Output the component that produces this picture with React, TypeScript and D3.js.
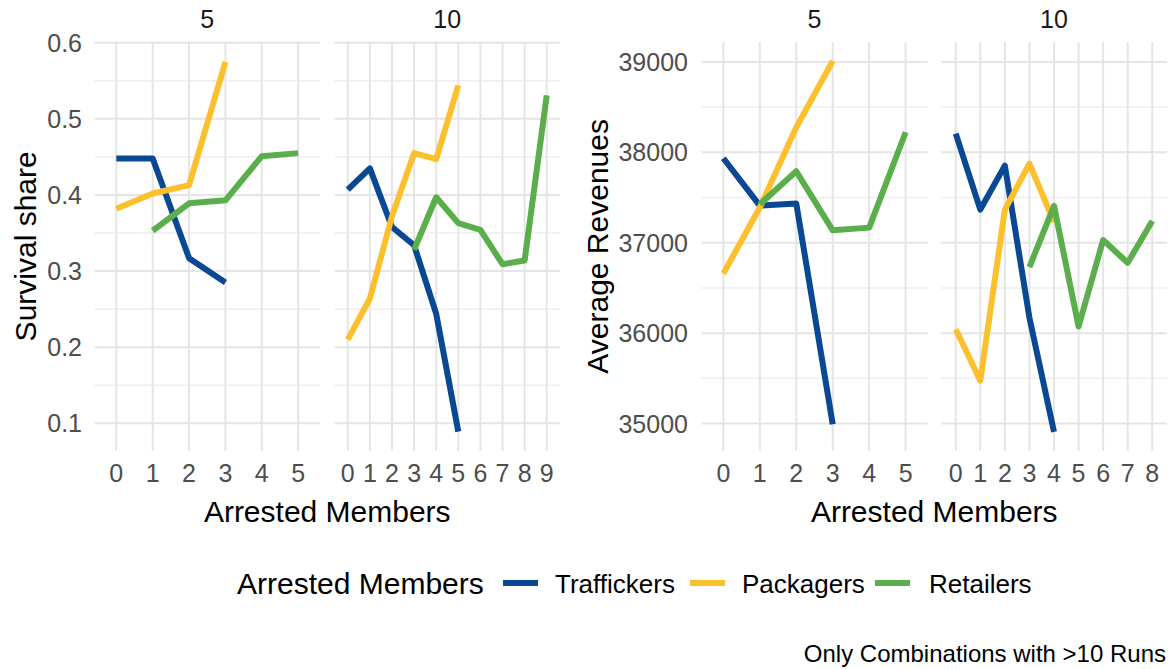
import React from "react";
import * as d3 from "d3";

// ---------- data ----------
const seriesNames = ["Traffickers", "Packagers", "Retailers"];
const seriesColors = ["#0a4893", "#fcc02e", "#5aae4b"];

const survivalX5 = ["0", "1", "2", "3", "4", "5"];
const survivalX10 = ["0", "1", "2", "3", "4", "5", "6", "7", "8", "9"];
const revenueX5 = ["0", "1", "2", "3", "4", "5"];
const revenueX10 = ["0", "1", "2", "3", "4", "5", "6", "7", "8"];

const survival5Traffickers = [0.448, 0.448, 0.317, 0.285, null, null];
const survival5Packagers = [0.382, 0.402, 0.413, 0.575, null, null];
const survival5Retailers = [null, 0.353, 0.389, 0.393, 0.451, 0.455];

const survival10Traffickers = [0.407, 0.435, 0.358, 0.334, 0.244, 0.089, null, null, null, null];
const survival10Packagers = [0.21, 0.264, 0.372, 0.455, 0.447, 0.544, null, null, null, null];
const survival10Retailers = [null, null, null, 0.328, 0.397, 0.363, 0.354, 0.309, 0.314, 0.531];

const revenue5Traffickers = [37934, 37410, 37435, 34992, null, null];
const revenue5Packagers = [36660, 37390, 38276, 39010, null, null];
const revenue5Retailers = [null, 37425, 37790, 37137, 37167, 38222];

const revenue10Traffickers = [38207, 37367, 37853, 36170, 34907, null, null, null, null];
const revenue10Packagers = [36044, 35475, 37366, 37875, 37229, null, null, null, null];
const revenue10Retailers = [null, null, null, 36731, 37407, 36074, 37030, 36778, 37241];

const survivalTicks = [0.1, 0.2, 0.3, 0.4, 0.5, 0.6];
const survivalMinor = [0.15, 0.25, 0.35, 0.45, 0.55];
const revenueTicks = [35000, 36000, 37000, 38000, 39000];
const revenueMinor = [35500, 36500, 37500, 38500];

const facetLabels = ["5", "10"];
const xTitle = "Arrested Members";
const legendTitle = "Arrested Members";
const caption = "Only Combinations with >10 Runs";

// ---------- layout ----------
const W = 1174;
const H = 669;
const PANEL_TOP = 42;
const PANEL_BOTTOM = 450.7;
const FONT = "'Liberation Sans', Arial, Helvetica, sans-serif";

type Plot = {
  yTitle: string;
  yDomain: [number, number];
  ticks: number[];
  minor: number[];
  fmt: (v: number) => string;
  x0: number;
  pw: number;
  gap: number;
  labelRight: number;
  yTitleX: number;
  panels: { label: string; cats: string[]; series: (number | null)[][] }[];
};

const plots: Plot[] = [
  {
    yTitle: "Survival share",
    yDomain: [0.064, 0.601],
    ticks: survivalTicks,
    minor: survivalMinor,
    fmt: d3.format(".1f"),
    x0: 94.5,
    pw: 225.5,
    gap: 14.5,
    labelRight: 82,
    yTitleX: 36,
    panels: [
      { label: facetLabels[0], cats: survivalX5, series: [survival5Traffickers, survival5Packagers, survival5Retailers] },
      { label: facetLabels[1], cats: survivalX10, series: [survival10Traffickers, survival10Packagers, survival10Retailers] },
    ],
  },
  {
    yTitle: "Average Revenues",
    yDomain: [34700, 39220],
    ticks: revenueTicks,
    minor: revenueMinor,
    fmt: d3.format("d"),
    x0: 701.5,
    pw: 226,
    gap: 13.5,
    labelRight: 688,
    yTitleX: 608,
    panels: [
      { label: facetLabels[0], cats: revenueX5, series: [revenue5Traffickers, revenue5Packagers, revenue5Retailers] },
      { label: facetLabels[1], cats: revenueX10, series: [revenue10Traffickers, revenue10Packagers, revenue10Retailers] },
    ],
  },
];

function PlotGroup({ plot }: { plot: Plot }) {
  const y = d3.scaleLinear().domain(plot.yDomain).range([PANEL_BOTTOM, PANEL_TOP]);
  const totalW = plot.pw * 2 + plot.gap;
  const centerX = plot.x0 + totalW / 2;
  return (
    <g>
      {plot.panels.map((panel, pi) => {
        const left = plot.x0 + pi * (plot.pw + plot.gap);
        const x = d3.scalePoint<string>().domain(panel.cats).range([left, left + plot.pw]).padding(0.6);
        return (
          <g key={pi}>
            {plot.minor.map((v) => (
              <line key={"mn" + v} x1={left} x2={left + plot.pw} y1={y(v)} y2={y(v)} stroke="#eeeeee" strokeWidth={1.5} />
            ))}
            {plot.ticks.map((v) => (
              <line key={"mj" + v} x1={left} x2={left + plot.pw} y1={y(v)} y2={y(v)} stroke="#e5e5e5" strokeWidth={2} />
            ))}
            {panel.cats.map((c) => (
              <line key={"vx" + c} x1={x(c)} x2={x(c)} y1={PANEL_TOP} y2={PANEL_BOTTOM} stroke="#e5e5e5" strokeWidth={2} />
            ))}
            {panel.series.map((vals, si) => {
              const pts = panel.cats.map((c, i) => ({ c, v: vals[i] }));
              const gen = d3
                .line<{ c: string; v: number | null }>()
                .defined((d) => d.v != null)
                .x((d) => x(d.c) as number)
                .y((d) => y(d.v as number));
              return (
                <path
                  key={"s" + si}
                  d={gen(pts) || ""}
                  fill="none"
                  stroke={seriesColors[si]}
                  strokeWidth={6}
                  strokeLinejoin="round"
                  strokeLinecap="butt"
                />
              );
            })}
            {panel.cats.map((c) => (
              <text key={"tx" + c} x={x(c)} y={482} textAnchor="middle" fontSize={25} fill="#4d4d4d" fontFamily={FONT}>
                {c}
              </text>
            ))}
            <text x={left + plot.pw / 2} y={28} textAnchor="middle" fontSize={25} fill="#1a1a1a" fontFamily={FONT}>
              {panel.label}
            </text>
          </g>
        );
      })}
      {plot.ticks.map((v) => (
        <text key={"yl" + v} x={plot.labelRight} y={y(v) + 9} textAnchor="end" fontSize={25} fill="#4d4d4d" fontFamily={FONT}>
          {plot.fmt(v)}
        </text>
      ))}
      <text
        transform={`translate(${plot.yTitleX},${(PANEL_TOP + PANEL_BOTTOM) / 2}) rotate(-90)`}
        textAnchor="middle"
        fontSize={30}
        fill="#000"
        fontFamily={FONT}
      >
        {plot.yTitle}
      </text>
      <text x={centerX} y={522} textAnchor="middle" fontSize={30} fill="#000" fontFamily={FONT}>
        {xTitle}
      </text>
    </g>
  );
}

const legendKeyX = [503, 690, 875];
const legendLabelX = [555, 742, 929];

export default function App() {
  return (
    <svg
      width={W}
      height={H}
      viewBox={`0 0 ${W} ${H}`}
      style={{ position: "absolute", left: 0, top: 0, background: "#fff" }}
    >
      <rect x={0} y={0} width={W} height={H} fill="#fff" />
      {plots.map((p, i) => (
        <PlotGroup key={i} plot={p} />
      ))}
      <g>
        <text x={237} y={594} fontSize={30} fill="#000" fontFamily={FONT}>
          {legendTitle}
        </text>
        {seriesNames.map((name, i) => (
          <g key={name}>
            <line x1={legendKeyX[i]} x2={legendKeyX[i] + 35} y1={583} y2={583} stroke={seriesColors[i]} strokeWidth={6} />
            <text x={legendLabelX[i]} y={592.5} fontSize={26} fill="#000" fontFamily={FONT}>
              {name}
            </text>
          </g>
        ))}
      </g>
      <text x={1166} y={662} textAnchor="end" fontSize={24} fill="#000" fontFamily={FONT}>
        {caption}
      </text>
    </svg>
  );
}
